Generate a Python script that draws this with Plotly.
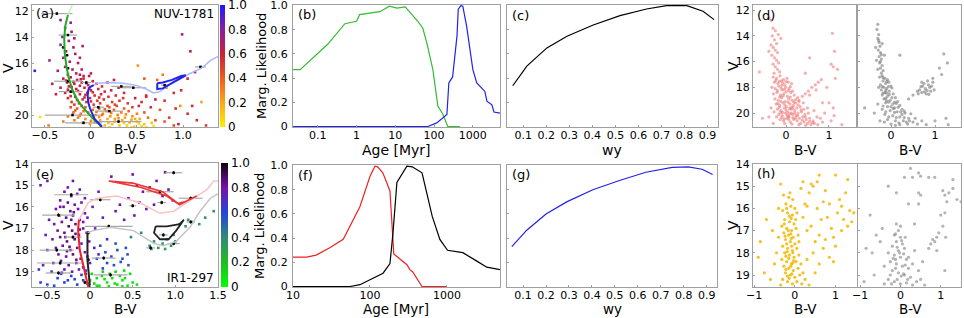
import plotly.graph_objects as go

W, H = 964, 318
FONT = "DejaVu Sans"

# ---------------- data ----------------
# (a) NUV-1781 CMD stars: (B-V, V, likelihood)
a_upper = [(-0.33,12.7,0.8),(-0.28,13.3,0.78),(-0.21,13.6,0.74),(-0.31,14.0,0.8),(-0.24,14.3,0.72),(-0.19,14.8,0.7),
           (-0.27,15.1,0.76),(-0.17,15.3,0.68),(-0.30,15.6,0.72),(-0.23,15.9,0.7),(-0.14,16.0,0.66),(-0.28,16.3,0.7),
           (-0.20,16.5,0.68),(-0.16,16.8,0.65),(-0.45,15.8,0.7),(-0.09,14.7,0.72),(-0.25,16.9,0.66),(-0.36,16.6,0.72),
           (-0.61,16.6,0.95),(0.99,13.8,0.75),(-0.22,12.9,0.82),(-0.12,15.6,0.66),(-0.33,14.6,0.78),(-0.18,14.1,0.72),
           (-0.10,16.5,0.64),(0.0,16.8,0.62),(-0.08,17.0,0.62)]
a_mid = [(-0.30,17.2,0.62),(-0.22,17.1,0.6),(-0.15,17.3,0.64),(-0.08,17.2,0.58),(0.02,17.4,0.6),(-0.26,17.5,0.62),
         (-0.18,17.6,0.6),(-0.10,17.5,0.63),(-0.03,17.7,0.58),(0.06,17.6,0.6),(0.12,17.8,0.56),(-0.33,17.9,0.64),
         (-0.24,17.8,0.6),(-0.16,18.0,0.62),(-0.07,17.9,0.58),(0.0,18.1,0.6),(0.08,18.0,0.57),(0.15,18.2,0.55),
         (0.22,18.1,0.58),(-0.28,18.3,0.6),(-0.2,18.2,0.62),(-0.12,18.4,0.58),(-0.04,18.3,0.6),(0.04,18.5,0.55),
         (0.11,18.4,0.57),(0.19,18.6,0.53),(0.27,18.5,0.55),(0.35,18.7,0.52),(-0.25,18.7,0.57),(-0.17,18.6,0.6),
         (-0.09,18.8,0.55),(-0.01,18.7,0.56),(0.07,18.9,0.52),(0.14,18.8,0.54),(0.23,19.0,0.5),(0.31,18.9,0.52),
         (0.4,19.1,0.5),(-0.21,19.0,0.52),(-0.13,19.1,0.5),(-0.05,19.0,0.52),(0.03,19.2,0.48),(0.1,19.1,0.5),
         (0.18,19.3,0.46),(0.26,19.2,0.48),(0.45,19.4,0.5),(0.52,19.3,0.55),(-0.38,18.4,0.62),(-0.42,17.6,0.64),
         (0.3,17.9,0.58),(0.18,17.5,0.6),(0.36,18.3,0.56),(0.6,18.6,0.55),(0.55,19.0,0.55),(-0.02,17.0,0.62),
         (-0.12,16.9,0.64),(0.25,17.3,0.6),
         (-0.27,17.35,0.6),(-0.19,17.45,0.62),(-0.11,17.25,0.6),(-0.05,17.55,0.58),(-0.21,17.85,0.6),(-0.12,17.75,0.6),
         (-0.02,17.95,0.57),(-0.25,18.05,0.61),(-0.14,18.15,0.6),(-0.06,18.45,0.56),(0.02,18.25,0.57),(-0.22,18.55,0.58),
         (-0.15,18.85,0.55),(-0.07,18.65,0.56),(0.09,18.65,0.53),(-0.18,19.2,0.5),(-0.1,19.3,0.48),(0.0,18.95,0.52)]
a_low = [(-0.22,19.4,0.45),(-0.15,19.5,0.4),(-0.06,19.4,0.42),(0.02,19.6,0.38),(0.09,19.5,0.4),(0.17,19.7,0.35),
         (0.25,19.6,0.4),(0.33,19.8,0.32),(0.41,19.7,0.38),(0.5,19.9,0.3),(0.58,19.8,0.42),(-0.19,19.8,0.38),
         (-0.11,19.9,0.35),(-0.03,19.8,0.33),(0.05,20.0,0.3),(0.13,19.9,0.28),(0.21,20.1,0.25),(0.29,20.0,0.3),
         (0.37,20.2,0.22),(0.45,20.1,0.26),(0.53,20.3,0.2),(0.62,20.2,0.35),(0.7,20.4,0.45),(-0.14,20.2,0.3),
         (-0.06,20.3,0.28),(0.02,20.2,0.25),(0.1,20.4,0.2),(0.18,20.3,0.18),(0.26,20.5,0.15),(0.34,20.4,0.17),
         (0.42,20.6,0.12),(0.5,20.5,0.14),(0.58,20.7,0.1),(0.66,20.6,0.12),(-0.09,20.6,0.25),(-0.01,20.7,0.2),
         (0.07,20.6,0.18),(0.15,20.8,0.15),(0.23,20.7,0.12),(0.31,20.8,0.1),(0.39,20.8,0.08),(0.47,20.9,0.1),
         (0.55,20.85,0.06),(0.12,20.0,0.35),(0.2,19.4,0.42),(0.28,19.3,0.45),(-0.25,20.1,0.35),(-0.3,20.5,0.3),
         (0.8,20.5,0.4),(0.9,20.8,0.45),(0.75,19.6,0.42),(0.3,20.25,0.25),(0.0,20.45,0.3),(0.44,20.35,0.2),
         (0.36,19.5,0.38),(0.6,20.95,0.05),(0.2,20.95,0.1),(-0.55,20.15,0.02),(-0.46,20.8,0.3),
         (-0.17,19.65,0.4),(-0.08,19.7,0.36),(0.06,19.75,0.34),(0.15,19.55,0.38),(0.22,19.85,0.3),(0.38,19.95,0.28),
         (-0.12,20.05,0.32),(0.09,20.15,0.26),(0.26,20.3,0.2),(0.48,20.3,0.18),(0.04,20.55,0.22),(0.19,20.6,0.14),
         (0.36,20.6,0.1),(0.52,20.65,0.08),(0.1,20.9,0.1),(0.44,20.95,0.05),(0.68,20.85,0.04),(-0.18,20.4,0.3)]
a_far = [(0.6,18.5,0.55),(0.8,18.9,0.55),(0.92,19.5,0.55),(1.05,19.9,0.55),(1.15,20.4,0.55),(0.85,20.2,0.5),
         (0.48,18.7,0.6),(0.58,17.2,0.42),(0.72,17.3,0.35),(1.08,15.1,0.62),(1.13,16.7,0.6),(0.78,16.9,0.3),
         (0.51,16.2,0.25),(1.05,17.2,0.6),(1.2,19.0,0.2),(0.98,18.1,0.55),(0.7,18.8,0.6),(1.1,19.3,0.55),
         (0.95,20.7,0.6),(1.25,20.8,0.5),(0.9,18.3,0.55),(0.65,19.4,0.55),(0.82,17.9,0.3),(0.97,19.3,0.25)]
# (a) isochrones
a_green_bv = [-0.25,-0.28,-0.29,-0.285,-0.265,-0.24,-0.2,-0.15,-0.09,-0.03,0.04,0.12]
a_green_v = [12.3,13.2,14.2,15.2,16.3,17.2,18.1,18.8,19.4,19.9,20.4,20.9]
a_green_faint_bv = [-0.2,-0.22,-0.25]
a_green_faint_v = [11.5,11.8,12.3]
a_blue_bv = [0.12,0.04,-0.01,-0.03,-0.035,-0.03,-0.01,0.03]
a_blue_v = [20.9,20.3,19.5,19.0,18.5,18.1,17.85,17.7]
a_bluef_bv = [0.03,0.08,0.2,0.35,0.48,0.6,0.68,0.75,0.9,1.05,1.2,1.3,1.38]
a_bluef_v = [17.7,17.55,17.5,17.55,17.7,18.0,18.3,18.2,17.4,16.9,16.4,15.8,15.5]
a_loop_bv = [0.72,0.72,0.78,0.9,1.0,1.03,0.98,0.88,0.78,0.72]
a_loop_v = [17.55,18.0,17.95,17.5,17.1,16.95,17.0,17.3,17.5,17.55]
# (a) error bars
a_err_bv = [-0.37,-0.25,-0.30,-0.26,-0.25,-0.25,-0.05,-0.22,0.33,0.46,0.80,1.19,0.08,-0.2,-0.08,0.3,0.2]
a_err_v = [12.2,13.85,14.8,15.4,16.4,17.4,17.5,18.2,17.8,17.9,17.7,16.3,19.4,20.0,20.6,20.5,19.7]
a_err_dbv = [0.17,0.1,0.02,0.02,0.02,0.15,0.05,0.13,0.11,0.14,0.04,0.06,0.06,0.3,0.2,0.25,0.15]

# (b) marginal likelihood vs age
b_green_age = [0.023,0.035,0.18,0.5,1.0,1.2,4,7,11,18,38,51,65,93,125,170,225,460]
b_green_lik = [0.47,0.47,0.68,0.85,0.87,0.925,0.95,0.995,0.98,0.99,0.87,0.815,0.69,0.47,0.17,0.1,0.0,0.0]
b_blue_age = [0.023,69,117,214,240,300,390,420,490,550,690,1000,1260,2040,2300,3100,3500,5000]
b_blue_lik = [0.0,0.0,0.03,0.1,0.36,0.41,0.75,0.97,1.0,0.995,0.83,0.47,0.36,0.29,0.21,0.18,0.12,0.11]
# (c) likelihood vs wy
c_wy = [0.055,0.116,0.203,0.29,0.404,0.52,0.635,0.722,0.81,0.88,0.928]
c_lik = [0.337,0.5,0.65,0.746,0.84,0.917,0.972,1.0,1.0,0.953,0.884]

# (d) observed / simulated CMDs
d_left = [(-0.35,12.8),(-0.3,13.4),(-0.25,13.6),(-0.32,14.0),(-0.27,14.3),(-0.22,14.6),(-0.3,14.9),(-0.25,15.1),
          (-0.2,15.3),(-0.33,15.5),(-0.27,15.7),(-0.22,15.9),(-0.17,16.1),(-0.3,16.2),(-0.25,16.4),(-0.2,16.6),
          (-0.15,16.8),(-0.28,16.9),(-0.12,14.2),(-0.4,15.2),(-0.18,13.9),(-0.62,16.8),
          (-0.3,17.2),(-0.22,17.3),(-0.14,17.1),(-0.06,17.4),(0.02,17.3),(-0.27,17.6),(-0.19,17.7),(-0.11,17.5),
          (-0.03,17.8),(0.05,17.6),(0.13,17.7),(-0.33,18.0),(-0.25,18.1),(-0.17,17.9),(-0.09,18.2),(-0.01,18.0),
          (0.07,18.1),(0.15,18.3),(-0.29,18.5),(-0.21,18.4),(-0.13,18.6),(-0.05,18.5),(0.03,18.7),(0.11,18.4),
          (0.19,18.6),(0.27,18.8),(-0.26,18.9),(-0.18,19.0),(-0.1,18.8),(-0.02,19.1),(0.06,18.9),(0.14,19.0),
          (0.22,19.2),(0.3,19.1),(-0.23,19.3),(-0.15,19.4),(-0.07,19.2),(0.01,19.5),(0.09,19.3),(0.17,19.4),
          (0.25,19.6),(0.33,19.5),(0.41,19.7),(-0.2,19.7),(-0.12,19.8),(-0.04,19.6),(0.04,19.9),(0.12,19.7),
          (0.2,19.8),(0.28,20.0),(0.36,19.9),(0.44,20.1),(0.52,20.0),(-0.17,20.1),(-0.09,20.2),(-0.01,20.0),
          (0.07,20.3),(0.15,20.1),(0.23,20.2),(0.31,20.4),(0.39,20.3),(0.47,20.5),(0.55,20.4),(0.63,20.6),
          (-0.14,20.5),(-0.06,20.6),(0.02,20.4),(0.1,20.7),(0.18,20.5),(0.26,20.6),(0.34,20.8),(0.42,20.7),
          (0.5,20.8),(0.58,20.9),(0.66,20.8),(0.74,20.9),(-0.35,19.6),(-0.4,20.3),(-0.3,20.8),(-0.55,20.4),
          (0.0,19.75),(0.08,20.05),(-0.08,19.95),(0.16,20.35),(0.05,20.25),(-0.04,20.45),(0.12,19.55),(-0.12,19.1),
          (0.2,20.0),(0.0,18.35),(-0.1,17.85),(0.1,17.95),
          (-0.24,17.45),(-0.16,17.55),(-0.08,17.65),(0.0,17.55),(-0.2,18.25),(-0.12,18.05),(-0.04,18.15),(0.06,18.25),
          (-0.15,18.75),(-0.07,18.65),(0.1,18.75),(0.22,18.95),(-0.19,19.25),(-0.03,19.35),(0.05,19.15),(0.18,19.15),
          (0.28,19.35),(-0.16,19.55),(0.08,19.65),(0.16,19.6),(0.35,19.75),(-0.13,19.95),(0.02,20.15),(0.12,20.0),
          (0.27,20.2),(0.45,20.3),(-0.1,20.35),(0.06,20.5),(0.22,20.4),(0.38,20.55),(0.55,20.65),(-0.03,20.8),
          (0.14,20.85),(0.3,20.9),(0.46,20.95),(0.62,20.75),(0.85,20.7),(-0.22,20.3),(-0.28,19.9),(0.5,19.6),
          (0.3,19.0),(0.38,18.7),(0.45,18.5),(0.52,18.3),(0.6,18.0),(0.68,17.8),(0.75,17.6),(0.82,17.4),
          (0.55,18.6),(0.7,18.2),(0.4,19.2),(1.05,16.2),(1.1,16.4),(1.2,16.6),(1.15,17.3),(1.08,13.8),
          (1.13,15.2),(1.0,19.2),(1.1,19.6),(1.12,20.2),(1.05,20.6),(0.9,20.0),(0.8,20.4),(1.3,20.9),
          (0.55,15.7),(0.45,16.9),(-0.35,14.7),(-0.4,12.6),(0.95,18.0),(0.85,19.2),(0.65,19.8),(0.72,20.3)]
d_right = [(-0.3,13.1),(-0.32,13.5),(-0.28,13.9),(-0.3,14.2),(-0.27,14.5),(-0.25,14.8),(-0.29,15.1),(-0.24,15.3),
           (-0.27,15.6),(-0.22,15.8),(-0.26,16.1),(-0.2,16.3),(-0.24,16.5),(-0.18,16.7),(-0.22,16.9),(-0.35,14.9),
           (-0.33,15.9),(-0.2,14.6),(-0.15,15.5),(-0.3,16.6),
           (-0.2,17.1),(-0.14,17.3),(-0.26,17.2),(-0.08,17.4),(-0.18,17.5),(-0.12,17.7),(-0.24,17.8),(-0.05,17.6),
           (-0.16,18.0),(-0.1,18.1),(-0.22,18.2),(0.0,17.9),(-0.04,18.3),(-0.14,18.4),(-0.2,18.6),(0.05,18.5),
           (-0.08,18.7),(0.1,18.8),(-0.16,18.9),(-0.02,19.0),(0.15,19.1),(-0.12,19.2),(0.04,19.3),(0.2,19.4),
           (-0.08,19.5),(0.08,19.6),(0.25,19.7),(-0.2,19.7),(-0.02,19.8),(0.14,19.9),(0.32,20.0),(-0.14,20.1),
           (0.04,20.2),(0.2,20.3),(0.4,20.4),(-0.08,20.5),(0.1,20.6),(0.28,20.6),(0.5,20.7),(0.0,20.85),
           (0.2,20.9),(0.38,20.85),(0.6,20.85),(0.8,20.9),(0.7,20.6),(-0.3,19.3),(-0.38,20.0),(-0.25,20.6),
           (-0.6,19.6),(0.12,19.25),(-0.05,19.15),(0.3,19.85),(0.45,20.05),(0.25,20.1),(0.05,19.65),(-0.1,18.45),
           (0.02,18.05),(-0.28,18.0),(0.35,20.7),(0.55,20.4),(1.3,20.9),(1.0,20.6),(1.25,20.4),
           (-0.18,17.25),(-0.1,17.55),(-0.2,17.95),(-0.06,17.95),(-0.12,18.25),(-0.18,18.45),(-0.04,18.55),(-0.12,18.85),
           (0.02,18.8),(-0.1,19.05),(0.08,19.15),(-0.18,19.45),(0.0,19.5),(0.16,19.55),(-0.12,19.9),(0.08,19.95),
           (0.22,19.9),(-0.05,20.3),(0.12,20.35),(0.3,20.35),(-0.15,20.7),(0.18,20.75),(0.42,20.6),(0.1,20.95),
           (-0.24,16.0),(-0.22,15.45),(-0.28,14.35),
           (0.65,18.2),(0.72,17.9),(0.78,18.1),(0.85,17.8),(0.9,18.3),(0.8,18.5),(0.95,17.6),(0.7,18.4),
           (0.88,18.0),(0.75,17.7),(0.98,18.2),(0.62,18.5),(0.5,18.6),(0.4,18.9),(1.2,15.4),(1.28,16.1),
           (1.15,17.0),(1.1,16.5),(0.2,15.5),(0.95,17.3),(0.83,17.5),
           (0.68,17.95),(0.82,18.25),(0.92,17.9),(0.76,18.35),(0.6,18.3),(0.86,18.55),(0.7,17.6)]

# (e) IR1-297 CMD stars: (B-V, V, likelihood)
e_band = [(-0.3,15.3,0.8),(-0.22,15.5,0.82),(-0.15,15.4,0.78),(-0.35,15.7,0.8),(-0.26,15.8,0.83),(-0.18,15.9,0.8),
          (-0.1,15.8,0.78),(-0.4,16.1,0.8),(-0.31,16.0,0.82),(-0.23,16.2,0.84),(-0.14,16.1,0.8),(-0.06,16.3,0.78),
          (-0.36,16.4,0.8),(-0.28,16.5,0.85),(-0.2,16.4,0.82),(-0.12,16.6,0.8),(-0.03,16.5,0.76),(-0.42,16.8,0.78),
          (-0.33,16.7,0.82),(-0.25,16.9,0.86),(-0.17,16.8,0.83),(-0.08,17.0,0.8),(-0.38,17.1,0.8),(-0.3,17.2,0.84),
          (-0.21,17.1,0.86),(-0.13,17.3,0.82),(-0.04,17.2,0.78),(-0.44,17.5,0.78),(-0.35,17.4,0.82),(-0.27,17.6,0.85),
          (-0.18,17.5,0.84),(-0.1,17.7,0.8),(-0.01,17.6,0.76),(-0.4,17.9,0.78),(-0.32,17.8,0.82),(-0.23,18.0,0.84),
          (-0.15,17.9,0.82),(-0.06,18.1,0.78),(-0.37,18.2,0.8),(-0.28,18.3,0.83),(-0.2,18.2,0.84),(-0.11,18.4,0.8),
          (-0.03,18.3,0.76),(-0.43,18.6,0.75),(-0.34,18.5,0.8),(-0.25,18.7,0.82),(-0.16,18.6,0.82),(-0.08,18.8,0.78),
          (-0.3,18.9,0.78),(-0.21,19.0,0.8),(-0.13,18.9,0.8),(-0.05,19.1,0.74),(-0.26,15.1,0.8),(-0.12,15.2,0.78),
          (-0.48,16.6,0.76),(-0.52,17.3,0.75),(-0.5,18.0,0.74),(0.03,16.0,0.76),(0.06,17.0,0.74),(0.05,17.9,0.72),
          (-0.19,16.25,0.84),(-0.29,17.4,0.84),(-0.08,16.7,0.8),(-0.24,17.85,0.84),(-0.16,18.45,0.82),(-0.33,19.05,0.76),
          (-0.12,17.05,0.82),(-0.22,16.6,0.84),(-0.35,16.0,0.8),(-0.06,15.6,0.78),(-0.27,18.05,0.83),(-0.17,17.25,0.84),
          (0.1,15.3,0.76),(0.15,16.5,0.74),(0.2,17.5,0.72),(-0.58,15.0,0.76),(-0.5,14.8,0.78),(-0.2,14.8,0.8),
          (0.25,14.6,0.8),(0.35,15.9,0.78),(0.0,18.6,0.72),(0.1,18.2,0.7),(-0.55,18.7,0.72)]
e_upper = [(0.5,14.5,0.8),(0.55,15.0,0.82),(0.62,15.3,0.8),(0.7,15.1,0.84),(0.78,14.8,0.8),(0.85,15.5,0.82),
           (0.92,15.2,0.8),(0.45,15.6,0.78),(0.58,15.8,0.8),(0.66,16.1,0.76),(0.75,15.9,0.8),(0.88,14.4,0.82),
           (0.97,15.7,0.8),(0.4,16.6,0.76),(0.3,16.2,0.78),(0.52,16.4,0.78)]
e_blue = [(-0.45,19.0,0.62),(-0.38,19.3,0.6),(-0.3,19.5,0.6),(-0.22,19.2,0.64),(-0.15,19.6,0.6),(-0.08,19.4,0.62),
          (-0.5,19.6,0.6),(-0.42,19.65,0.58),(-0.34,19.1,0.64),(-0.26,19.4,0.62),(-0.18,19.35,0.6),(-0.1,19.15,0.64),
          (-0.03,19.55,0.6),(-0.58,19.5,0.6),(-0.6,18.9,0.62),(0.18,18.1,0.58),(0.25,18.3,0.56),(0.32,18.0,0.58),
          (0.38,18.4,0.56),(0.44,18.2,0.55),(0.2,18.6,0.58),(0.28,18.7,0.56),(0.36,18.55,0.55),(0.42,17.9,0.56),
          (0.15,18.85,0.6),(0.3,17.7,0.55),(-0.05,18.95,0.62),(0.08,18.4,0.6),(0.45,18.7,0.54),(0.12,17.8,0.58)]
e_green = [(0.02,19.1,0.12),(0.08,19.3,0.1),(0.14,19.2,0.12),(0.2,19.5,0.08),(0.26,19.3,0.1),(0.32,19.6,0.06),
           (0.38,19.4,0.08),(0.44,19.65,0.05),(0.5,19.5,0.06),(0.05,19.55,0.1),(0.11,19.65,0.08),(0.17,19.35,0.1),
           (0.23,19.1,0.12),(0.29,19.55,0.08),(0.35,19.2,0.1),(0.41,19.3,0.08),(0.47,19.1,0.1),(0.0,19.4,0.12),
           (0.15,19.0,0.14),(0.3,19.0,0.12),(0.55,19.6,0.05),(0.08,19.65,0.08),(0.22,19.68,0.06),(0.38,19.68,0.05),
           (0.4,18.95,0.12)]
e_teal = [(0.7,17.8,0.35),(0.75,17.6,0.38),(0.8,17.9,0.33),(0.85,17.7,0.36),(0.9,17.5,0.38),(0.95,17.8,0.34),
          (1.0,17.6,0.36),(0.72,17.95,0.32),(0.88,17.95,0.33),(1.05,16.8,0.36),(1.12,16.9,0.34),(1.2,16.7,0.36),
          (1.28,16.8,0.33),(1.15,16.6,0.38),(1.35,16.5,0.34),(1.45,16.2,0.36),(0.6,17.2,0.4),(0.48,17.4,0.42),
          (0.98,17.3,0.38)]
# (e) isochrones
e_red_bv = [-0.02,-0.06,-0.12,-0.14,-0.13]
e_red_v = [19.72,19.07,18.0,17.07,16.6]
e_pink_bv = [-0.13,-0.02,0.08,0.31,0.58,0.82,0.98,1.13,1.37,1.45,1.5]
e_pink_v = [16.6,15.8,15.6,15.5,15.8,16.3,16.2,15.8,15.2,14.8,14.8]
e_redloop_bv = [0.22,0.5,0.85,1.0,1.05,1.15,1.25,1.12,1.03,0.9,0.6,0.25,0.22]
e_redloop_v = [14.8,14.9,15.3,15.75,15.9,15.7,15.5,15.75,15.85,15.5,15.1,14.85,14.8]
e_black_bv = [0.0,-0.03,-0.03,-0.03]
e_black_v = [19.72,18.47,17.6,17.2]
e_gray_bv = [-0.03,0.04,0.24,0.51,0.75,0.86,1.01,1.17,1.29,1.41,1.5]
e_gray_v = [17.2,17.1,16.95,17.1,17.7,17.8,17.6,16.95,16.2,15.6,15.4]
e_bloop_bv = [0.77,0.75,0.82,0.92,1.01,1.1,1.05,0.9,0.77]
e_bloop_v = [16.9,17.2,17.5,17.5,17.1,16.6,16.8,16.9,16.9]
# (e) error bars
e_err_bv = [-0.22,0.12,-0.37,0.22,-0.2,-0.39,0.16,-0.35,-0.37,0.24,0.98,0.82,0.84,1.18,0.5,1.18,0.98,0.71,0.86,-0.02,-0.02,-0.06]
e_err_v = [15.44,15.67,16.38,16.9,17.4,18.0,18.37,18.6,19.06,19.15,14.42,15.3,15.8,15.6,15.95,16.7,17.7,17.9,17.3,17.2,18.45,19.5]
e_err_dbv = [0.2,0.12,0.19,0.28,0.1,0.2,0.14,0.27,0.15,0.2,0.1,0.16,0.05,0.14,0.04,0.05,0.07,0.05,0.05,0.02,0.02,0.02]

# (f) marginal likelihood vs age
f_red_age = [10,15,20,30,45,55,74,100,116,126,147,182,204,302,330,360,475,1000]
f_red_lik = [0.243,0.243,0.26,0.32,0.39,0.5,0.66,0.91,0.995,0.99,0.94,0.79,0.27,0.18,0.14,0.12,0.0,0.0]
f_black_age = [10,55,74,110,148,182,199,224,302,355,475,645,810,1020,1610,2450,3300,4900]
f_black_lik = [0.0,0.0,0.015,0.07,0.11,0.19,0.44,0.86,0.995,0.99,0.94,0.58,0.39,0.3,0.28,0.21,0.16,0.14]
# (g) likelihood vs wy
g_wy = [0.051,0.116,0.2,0.29,0.404,0.52,0.635,0.75,0.82,0.88,0.926]
g_lik = [0.33,0.466,0.6,0.7,0.8,0.877,0.945,0.986,0.99,0.97,0.926]

# (h) observed / simulated CMDs
h_left = [(-0.28,15.4),(-0.15,15.5),(-0.05,15.6),(-0.22,15.8),(-0.1,15.9),(0.0,16.0),(-0.3,16.1),(-0.18,16.2),
          (-0.06,16.3),(0.05,16.2),(-0.25,16.5),(-0.13,16.6),(-0.02,16.7),(-0.32,16.8),(-0.2,16.9),(-0.08,17.0),
          (0.03,16.9),(-0.27,17.1),(-0.15,17.2),(-0.04,17.3),(0.08,17.2),(-0.23,17.4),(-0.11,17.5),(0.0,17.6),
          (-0.3,17.7),(-0.18,17.8),(-0.06,17.9),(0.05,17.8),(-0.25,18.0),(-0.13,18.1),(-0.02,18.2),(0.1,18.1),
          (-0.32,18.3),(-0.2,18.4),(-0.08,18.5),(0.03,18.4),(-0.27,18.6),(-0.15,18.7),(-0.04,18.8),(0.08,18.7),
          (-0.23,18.9),(-0.11,19.0),(0.0,19.1),(0.12,19.0),(-0.3,19.2),(-0.18,19.3),(-0.06,19.4),(0.05,19.3),
          (0.17,19.4),(-0.35,19.45),(-0.12,15.3),(-0.2,16.0),(-0.09,16.45),(-0.16,17.0),(-0.1,17.15),(-0.2,17.6),
          (-0.08,17.7),(-0.15,18.25),(-0.1,18.6),(-0.18,19.05),(0.02,16.5),(-0.05,18.0),(-0.22,18.15),(0.1,17.5),
          (0.15,18.5),(0.2,18.9),(0.25,19.2),(0.3,18.3),(0.35,19.45),(-0.4,17.3),(-0.45,18.0),(-0.5,18.5),
          (-0.55,17.0),(-0.7,16.5),(-0.85,17.5),(-0.9,18.2),(-0.75,18.9),(-0.6,19.2),(-0.4,16.0),(0.2,16.4),
          (0.25,15.8),(-0.35,14.9),(-0.05,18.45),(-0.13,16.35),
          (-0.24,17.25),(-0.09,17.35),(-0.19,17.95),(-0.03,18.35),(-0.22,18.75),(-0.07,18.95),(-0.14,19.15),(-0.26,16.7),
          (0.3,17.0),(0.4,16.8),(0.5,17.5),(0.45,18.0),(0.6,17.2),(0.7,17.8),(0.65,16.5),(0.55,16.0),
          (0.35,15.3),(0.45,15.0),(0.6,14.5),(0.75,15.2),(0.85,15.8),(0.8,16.4),(0.95,17.3),(1.0,17.7),
          (0.9,16.9),(1.05,16.2),(1.1,15.6),(1.15,15.9),(1.2,16.5),(1.3,16.8),(1.35,16.1),(1.4,16.6),
          (1.45,16.2),(1.25,15.3),(1.0,14.5),(0.2,14.8),(0.4,14.9),(0.7,15.7),(1.3,14.7),(0.85,18.2),
          (0.5,18.9),(0.6,18.5),(0.95,18.4),(0.3,15.9),(0.75,17.4),(1.15,17.0),(0.55,14.8),(0.15,15.1)]
h_right = [(-0.1,16.7),(-0.05,17.0),(-0.15,17.2),(0.0,17.3),(-0.1,17.5),(0.05,17.6),(-0.2,17.7),(-0.05,17.9),
           (0.1,17.8),(-0.15,18.1),(0.0,18.2),(0.15,18.3),(-0.25,18.4),(-0.1,18.5),(0.05,18.6),(0.2,18.7),
           (-0.2,18.8),(-0.05,18.9),(0.1,19.0),(0.25,19.1),(-0.3,19.2),(-0.15,19.3),(0.0,19.4),(0.15,19.35),
           (0.3,19.45),(-0.4,19.4),(-0.25,19.0),(0.2,18.2),(-0.3,18.0),(0.3,18.5),(-0.02,18.0),(0.08,18.95),
           (-0.12,18.3),(0.12,17.3),(-0.08,19.2),(0.0,16.8),(-0.4,18.6),(-0.5,17.5),(-0.6,17.2),(-0.7,18.0),
           (-0.85,17.8),(-0.65,19.0),(-0.9,19.3),(-0.45,16.9),(0.35,17.9),(0.45,18.8),(0.5,19.2),(0.55,18.4),
           (0.6,19.45),(0.4,19.3),(0.35,16.7),
           (-0.12,17.15),(0.03,17.45),(-0.08,17.75),(0.08,18.05),(-0.18,18.25),(0.12,18.55),(-0.12,18.7),(0.02,19.05),
           (-0.22,19.4),(0.18,19.2),
           (0.25,14.2),(0.45,14.4),(0.1,14.6),(0.3,14.6),(0.5,14.55),(0.7,14.6),(0.85,14.6),(-0.3,15.0),
           (-0.1,15.3),(0.45,15.3),(0.5,15.4),(0.45,15.8),(1.05,15.2),(1.1,15.4),(1.2,15.3),(1.3,15.1),
           (1.4,15.6),(1.5,15.7),(1.15,15.7),(1.0,16.3),(1.1,16.2),(1.05,16.8),(0.95,17.1),(0.9,17.3),
           (0.8,17.4),(0.75,17.6),(0.7,17.8),(0.85,17.5),(1.12,17.3),(0.9,17.9),(1.1,18.8),(1.3,14.7),
           (-0.75,16.3),(0.2,15.8)]

cb_ticks = [0, 0.2, 0.4, 0.6, 0.8, 1.0]
cb_text = ["0", "0.2", "0.4", "0.6", "0.8", "1.0"]
scale_a = [[0, "#ffee00"], [0.2, "#fca51c"], [0.4, "#f05a1e"], [0.6, "#c8203c"], [0.8, "#8a1e9e"], [1.0, "#1a1aff"]]
scale_e = [[0, "#00ff00"], [0.2, "#22bb22"], [0.4, "#2f8a78"], [0.6, "#2244dd"], [0.8, "#7a10aa"], [1.0, "#100010"]]

# ---------------- figure ----------------
fig = go.Figure()

def ax(n):
    return ("x" if n == 1 else f"x{n}"), ("y" if n == 1 else f"y{n}")

def unz(lst):
    return [list(t) for t in zip(*lst)]

def add_cmd_points(n, groups, scale, show, cby):
    xs, ys, cs = [], [], []
    for g in groups:
        x, y, c = unz(g)
        xs += x; ys += y; cs += c
    xa, ya = ax(n)
    mk = dict(size=2.6, symbol="square", color=cs, colorscale=scale, cmin=0, cmax=1,
              line=dict(width=0), showscale=show)
    if show:
        mk["colorbar"] = dict(x=cby[0] / W, xanchor="left", y=1 - (cby[1] + cby[2]) / 2 / H, yanchor="middle",
                              len=(cby[2] - cby[1]) / H, lenmode="fraction", thickness=cby[3],
                              outlinewidth=0, xpad=0, ypad=0, tickvals=cb_ticks, ticktext=cb_text,
                              ticks="", ticklabeloverflow="allow",
                              tickfont=dict(size=12, family=FONT, color="black"))
    fig.add_trace(go.Scatter(x=xs, y=ys, mode="markers", marker=mk, xaxis=xa, yaxis=ya,
                             showlegend=False, hoverinfo="skip"))

def add_line(n, x, y, color, width=1.3):
    xa, ya = ax(n)
    fig.add_trace(go.Scatter(x=x, y=y, mode="lines", line=dict(color=color, width=width),
                             xaxis=xa, yaxis=ya, showlegend=False, hoverinfo="skip"))

def add_err(n, x, y, dx):
    xa, ya = ax(n)
    fig.add_trace(go.Scatter(x=x, y=y, mode="markers",
                             marker=dict(color="black", size=2.5, symbol="square"),
                             error_x=dict(type="data", array=dx, color="#a8a8a8", thickness=1.2, width=0),
                             error_y=dict(type="constant", value=0.08, color="#333", thickness=1, width=0),
                             xaxis=xa, yaxis=ya, showlegend=False, hoverinfo="skip"))

def add_cloud(n, pts, color, size=3.2):
    xa, ya = ax(n)
    x, y = unz(pts)
    fig.add_trace(go.Scatter(x=x, y=y, mode="markers",
                             marker=dict(color=color, size=size, line=dict(width=0)),
                             xaxis=xa, yaxis=ya, showlegend=False, hoverinfo="skip"))

# (a)
add_cmd_points(1, [a_low, a_mid, a_far, a_upper], scale_a, True, (220, 5, 127, 5))
add_err(1, a_err_bv, a_err_v, a_err_dbv)
add_line(1, a_green_faint_bv, a_green_faint_v, "#c8f0c0", 1.5)
add_line(1, a_bluef_bv, a_bluef_v, "#aab8ff", 1.5)
add_line(1, a_green_bv, a_green_v, "#22aa22", 2)
add_line(1, a_blue_bv, a_blue_v, "#2222ee", 2)
add_line(1, a_loop_bv, a_loop_v, "#2222ee", 2)
# (b)
add_line(2, b_green_age, b_green_lik, "#33bb33", 1.2)
add_line(2, b_blue_age, b_blue_lik, "#2222ee", 1.2)
# (c)
add_line(3, c_wy, c_lik, "black", 1.2)
# (d)
add_cloud(4, d_left, "rgba(235,110,110,0.55)")
add_cloud(5, d_right, "rgba(110,110,110,0.55)")
# (e)
add_cmd_points(6, [e_band, e_upper, e_blue, e_green, e_teal], scale_e, True, (221, 163, 287, 7))
add_err(6, e_err_bv, e_err_v, e_err_dbv)
add_line(6, e_pink_bv, e_pink_v, "#f8c4c4", 1.5)
add_line(6, e_gray_bv, e_gray_v, "#c4c4c4", 1.5)
add_line(6, e_redloop_bv, e_redloop_v, "#ee3333", 1.6)
add_line(6, e_bloop_bv, e_bloop_v, "#222222", 1.8)
add_line(6, e_red_bv, e_red_v, "#ee2222", 2)
add_line(6, e_black_bv, e_black_v, "#222222", 2)
# (f)
add_line(7, f_red_age, f_red_lik, "#ee2222", 1.2)
add_line(7, f_black_age, f_black_lik, "black", 1.2)
# (g)
add_line(8, g_wy, g_lik, "#2222ee", 1.2)
# (h)
add_cloud(9, h_left, "rgba(240,185,0,0.85)")
add_cloud(10, h_right, "rgba(130,130,130,0.6)")

# ---------------- axes ----------------
base = dict(showline=True, linecolor="#a0a0a0", linewidth=1, mirror=True, showgrid=False, zeroline=False,
            ticks="inside", ticklen=2, tickcolor="#a0a0a0", automargin=False, ticklabeloverflow="allow",
            tickfont=dict(family=FONT, size=11, color="black"))

panels = {
    1: dict(px=(32, 218), py=(5, 127), xr=[-0.64, 1.38], yr=[20.92, 11.54],
            xt=([-0.5, 0, 0.5, 1.0], ["−0.5", "0", "0.5", "1.0"]), yt=([12, 14, 16, 18, 20], None)),
    2: dict(px=(293, 500), py=(5, 127), xr=[-1.64, 3.7], yr=[-0.004, 1.005], xlog=True, ystand=2,
            xt=([0.1, 1, 10, 100, 1000], ["0.1", "1", "10", "100", "1000"]), yt=(cb_ticks, cb_text)),
    3: dict(px=(507, 718), py=(5, 127), xr=[0.03, 0.945], yr=[-0.004, 1.005],
            xt=([0.1, 0.2, 0.3, 0.4, 0.5, 0.6, 0.7, 0.8, 0.9], None), yt=(cb_ticks, None), noy=True),
    4: dict(px=(753, 856), py=(5, 127), xr=[-0.77, 1.63], yr=[21.08, 11.6],
            xt=([0, 1], ["0", "1"]), yt=([12, 14, 16, 18, 20], None)),
    5: dict(px=(858, 961), py=(5, 127), xr=[-0.75, 1.59], yr=[21.08, 11.6],
            xt=([0, 1], ["0", "1"]), yt=([12, 14, 16, 18, 20], None), noy=True),
    6: dict(px=(32, 218), py=(163, 287), xr=[-0.68, 1.5], yr=[19.71, 13.97],
            xt=([-0.5, 0, 0.5, 1.0, 1.5], ["−0.5", "0", "0.5", "1.0", "1.5"]), yt=([14, 15, 16, 17, 18, 19], None)),
    7: dict(px=(293, 500), py=(165, 287), xr=[1.0, 3.69], yr=[-0.004, 1.005], xlog=True, ystand=2,
            xt=([10, 100, 1000], ["10", "100", "1000"]), yt=(cb_ticks, cb_text)),
    8: dict(px=(507, 717), py=(165, 287), xr=[0.03, 0.945], yr=[-0.004, 1.005],
            xt=([0.1, 0.2, 0.3, 0.4, 0.5, 0.6, 0.7, 0.8, 0.9], None), yt=(cb_ticks, None), noy=True),
    9: dict(px=(753, 857), py=(164, 287), xr=[-1.03, 1.53], yr=[19.54, 14.0],
            xt=([-1, 0, 1], ["−1", "0", "1"]), yt=([14, 15, 16, 17, 18, 19], None)),
    10: dict(px=(858, 961), py=(164, 287), xr=[-1.05, 1.5], yr=[19.54, 14.0],
             xt=([-1, 0, 1], ["−1", "0", "1"]), yt=([14, 15, 16, 17, 18, 19], None), noy=True),
}

layout_axes = {}
for n, p in panels.items():
    xk = "xaxis" if n == 1 else f"xaxis{n}"
    yk = "yaxis" if n == 1 else f"yaxis{n}"
    xa = dict(base, domain=[p["px"][0] / W, p["px"][1] / W], anchor=ax(n)[1], tickvals=p["xt"][0],
              ticklabelstandoff=-2)
    if p["xt"][1] is not None:
        xa["ticktext"] = p["xt"][1]
    if p.get("xlog"):
        xa["type"] = "log"
    xa["range"] = p["xr"]
    ya = dict(base, domain=[1 - p["py"][1] / H, 1 - p["py"][0] / H], anchor=ax(n)[0],
              range=p["yr"], tickvals=p["yt"][0], ticklabelstandoff=p.get("ystand", 0))
    if p["yt"][1] is not None:
        ya["ticktext"] = p["yt"][1]
    if p.get("noy"):
        ya["showticklabels"] = False
    layout_axes[xk] = xa
    layout_axes[yk] = ya

# ---------------- annotations ----------------
anns = []
def ann(text, x, y, size=13, xanchor="center", angle=0):
    anns.append(dict(text=text, x=x / W, y=1 - y / H, xref="paper", yref="paper", showarrow=False,
                     xanchor=xanchor, yanchor="middle", textangle=angle,
                     font=dict(family=FONT, size=size, color="black")))

ann("(a)", 34, 14, 13, "left")
ann("NUV-1781", 216, 14, 12, "right")
ann("(b)", 296, 15, 13, "left")
ann("(c)", 510, 16, 13, "left")
ann("(d)", 755, 16, 13, "left")
ann("(e)", 34, 174, 13, "left")
ann("IR1-297", 216, 278, 12, "right")
ann("(f)", 296, 175, 13, "left")
ann("(g)", 510, 174, 13, "left")
ann("(h)", 755, 173, 13, "left")

ann("V", 8, 68, 14, angle=-90)
ann("B-V", 125, 149, 13.5)
ann("Marg. Likelihood", 262, 66, 13, angle=-90)
ann("Age [Myr]", 396, 150, 14)
ann("wy", 612, 150, 14)
ann("V", 733, 66, 14, angle=-90)
ann("B-V", 805, 150, 13.5)
ann("B-V", 910, 150, 13.5)

ann("V", 8, 225, 14, angle=-90)
ann("B-V", 125, 309, 13.5)
ann("Marg. Likelihood", 260, 226, 13, angle=-90)
ann("Age [Myr]", 396, 309, 13.5)
ann("wy", 612, 309, 13.5)
ann("V", 733, 225, 14, angle=-90)
ann("B-V", 805, 309, 13.5)
ann("B-V", 910, 309, 13.5)

fig.update_layout(width=W, height=H, margin=dict(l=0, r=0, t=0, b=0, autoexpand=False),
                  paper_bgcolor="white", plot_bgcolor="white",
                  font=dict(family=FONT, color="black"), annotations=anns, showlegend=False,
                  **layout_axes)

fig.write_html("out.html", config={"displayModeBar": False},
               post_script="document.body.style.margin='0';document.body.style.padding='0';document.body.style.overflow='hidden';")
